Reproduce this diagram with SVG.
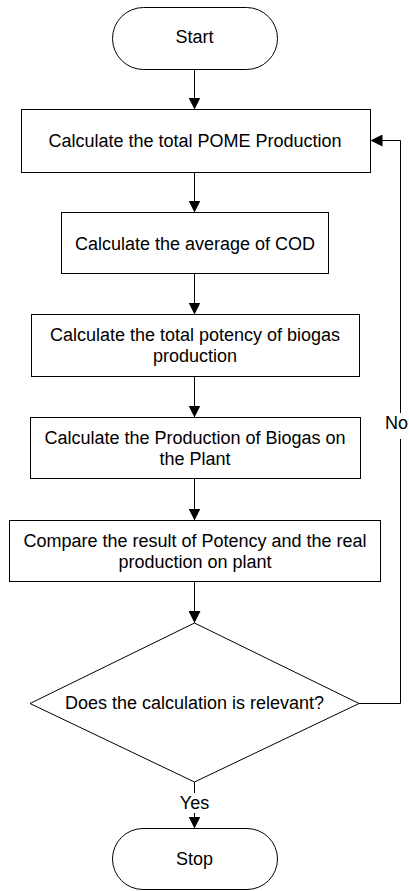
<svg xmlns="http://www.w3.org/2000/svg" width="409" height="891" viewBox="0 0 409 891">
<style>
.n{fill:#fff;stroke:#000;stroke-width:1}
.t{font-family:"Liberation Sans",Arial,sans-serif;font-size:18px;fill:#000;text-anchor:middle}
.c{fill:none;stroke:#000;stroke-width:1}
.bg{fill:#fff;stroke:none}
</style>
<defs>
<marker id="ah" markerUnits="userSpaceOnUse" markerWidth="12" markerHeight="12" refX="12" refY="6" orient="auto" viewBox="0 0 12 12">
<path d="M0,0 L12,6 L0,12 z" fill="#000"/>
</marker>
</defs>
<rect width="409" height="891" fill="#fff"/>
<g id="connectors">
<line class="c" x1="194.5" y1="69.5" x2="194.5" y2="109.5" marker-end="url(#ah)"/>
<line class="c" x1="194.5" y1="172.5" x2="194.5" y2="212.5" marker-end="url(#ah)"/>
<line class="c" x1="194.5" y1="273.5" x2="194.5" y2="314.5" marker-end="url(#ah)"/>
<line class="c" x1="194.5" y1="376.5" x2="194.5" y2="417.5" marker-end="url(#ah)"/>
<line class="c" x1="194.5" y1="478.5" x2="194.5" y2="520.5" marker-end="url(#ah)"/>
<line class="c" x1="194.5" y1="581.5" x2="194.5" y2="623" marker-end="url(#ah)"/>
<line class="c" x1="194.5" y1="782" x2="194.5" y2="828.5" marker-end="url(#ah)"/>
<polyline class="c" points="359,703.5 400.5,703.5 400.5,140.5 370.5,140.5" marker-end="url(#ah)"/>
<rect class="bg" x="180" y="793" width="30" height="20"/>
<text class="t" x="194.5" y="809">Yes</text>
<rect class="bg" x="386" y="413" width="23" height="26"/>
<text class="t" x="408" y="429" style="text-anchor:end">No</text>
</g>
<g id="start">
<rect class="n" x="112.5" y="7.5" width="165" height="62" rx="31" ry="31"/>
<text class="t" x="194.5" y="43">Start</text>
</g>
<g id="pome">
<rect class="n" x="21.5" y="109.5" width="349" height="63"/>
<text class="t" x="195" y="147">Calculate the total POME Production</text>
</g>
<g id="cod">
<rect class="n" x="61.5" y="212.5" width="267" height="61"/>
<text class="t" x="195" y="249.5">Calculate the average of COD</text>
</g>
<g id="potency">
<rect class="n" x="31.5" y="314.5" width="328" height="62"/>
<text class="t" x="195" y="341">Calculate the total potency of biogas</text>
<text class="t" x="195" y="362">production</text>
</g>
<g id="plant">
<rect class="n" x="30.5" y="417.5" width="330" height="61"/>
<text class="t" x="195" y="443.5">Calculate the Production of Biogas on</text>
<text class="t" x="195" y="464.5">the Plant</text>
</g>
<g id="compare">
<rect class="n" x="9.5" y="520.5" width="371" height="61"/>
<text class="t" x="195" y="546.5">Compare the result of Potency and the real</text>
<text class="t" x="195" y="567.5">production on plant</text>
</g>
<g id="decision">
<polygon class="n" points="194.5,623 359,703.5 194.5,782 30,703.5"/>
<text class="t" x="194.5" y="708.5">Does the calculation is relevant?</text>
</g>
<g id="stop">
<rect class="n" x="112.5" y="828.5" width="165" height="61" rx="30.5" ry="30.5"/>
<text class="t" x="194.5" y="865">Stop</text>
</g>
</svg>
